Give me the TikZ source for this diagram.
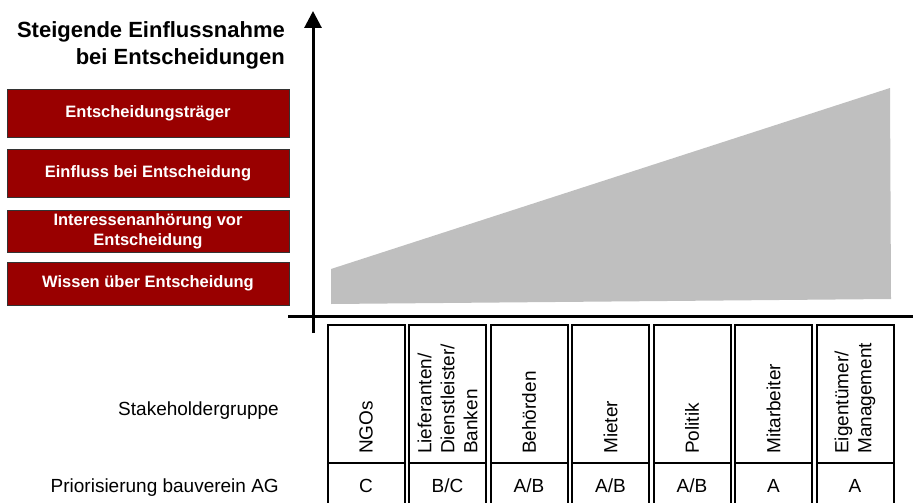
\documentclass[tikz,border=0pt]{standalone}
\usepackage{fontspec}
\setmainfont{Liberation Sans}
\usetikzlibrary{arrows.meta, positioning}
\definecolor{levelred}{HTML}{990000}
\definecolor{wedgegrey}{HTML}{BFBFBF}

\begin{document}
\begin{tikzpicture}[x=1pt, y=-1pt,
  levelbox/.style={draw=black!80, line width=1pt, fill=levelred, text=white,
    minimum width=282pt, align=center, inner sep=0pt,
    font=\fontsize{16.5}{20}\selectfont\bfseries},
  headcell/.style={draw, line width=2pt, minimum width=77pt, minimum height=138.5pt, inner sep=0pt},
  priocell/.style={draw, line width=2pt, minimum width=77pt, minimum height=43pt, inner sep=0pt,
    text height=15pt, text depth=0pt, font=\fontsize{19}{23}\selectfont},
  grouplabel/.style={rotate=90, anchor=west, align=left, inner sep=0pt,
    font=\fontsize{19}{23}\selectfont},
  rowlabel/.style={anchor=base east, inner sep=0pt, font=\fontsize{19}{23}\selectfont},
  axis/.style={line width=3pt}]
\useasboundingbox (0,0) rectangle (913,503);

% Title
\node[anchor=base east, align=right, inner sep=0pt, font=\fontsize{22}{27}\selectfont\bfseries]
  (title) at (285,64) {Steigende Einflussnahme\\bei Entscheidungen};

% Levels of influence
\node[levelbox, minimum height=48pt] (lvl4) at (148,113) {Entscheidungsträger};
\node[levelbox, minimum height=48pt] (lvl3) at (148,173) {Einfluss bei Entscheidung};
\node[levelbox, minimum height=42pt] (lvl2) at (148,231) {Interessenanhörung vor\\Entscheidung};
\node[levelbox, minimum height=43pt] (lvl1) at (148,283.5) {Wissen über Entscheidung};

% Rising wedge
\fill[wedgegrey] (331,304) -- (331,269) -- (890,88) -- (891,299) -- cycle;

% Axes
\coordinate (yorig) at (313,333);
\coordinate (ytop) at (313,11);
\coordinate (xleft) at (288,316);
\coordinate (xright) at (913,316);
\draw[axis, -{Triangle[width=17pt, length=17pt]}] (yorig) -- (ytop);
\draw[axis] (xleft) -- (xright);

% Row labels
\node[rowlabel] (grp) at (279,415) {Stakeholdergruppe};
\node[rowlabel] (prio) at (279,492) {Priorisierung bauverein AG};

% Stakeholder columns
\foreach \i/\x/\name/\rank in {1/366/{NGOs}/{C}, 2/447.5/{Lieferanten/\\Dienstleister/\\Banken}/{B/C},
    3/529/{Behörden}/{A/B}, 4/610.5/{Mieter}/{A/B}, 5/692/{Politik}/{A/B},
    6/773.5/{Mitarbeiter}/{A}, 7/855/{Eigentümer/\\Management}/{A}} {
  \node[headcell] (head\i) at (\x,393.75) {};
  \node[priocell] (rank\i) at (\x,484.5) {\rank};
  \node[grouplabel] (name\i) at (\x,454) {\name};
}

\end{tikzpicture}
\end{document}
